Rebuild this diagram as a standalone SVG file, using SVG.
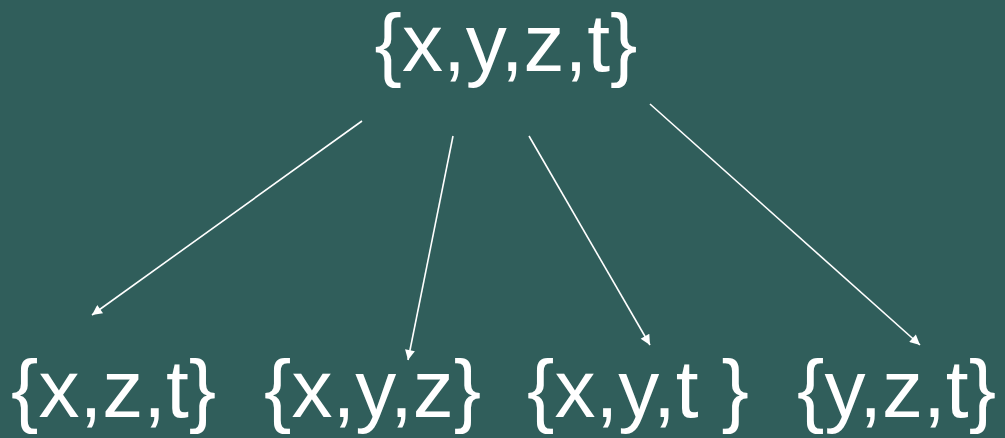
<svg xmlns="http://www.w3.org/2000/svg" width="1005" height="438" viewBox="0 0 1005 438">
<defs>
<style>
.t{font-family:"Liberation Sans",Arial,sans-serif;font-size:82px;fill:#ffffff}
.c line{stroke:#ffffff;stroke-width:1.6}
</style>
<marker id="ah" viewBox="0 0 10 10" refX="10" refY="5" markerWidth="14" markerHeight="10" markerUnits="userSpaceOnUse" orient="auto">
<path d="M0,0 L10,5 L0,10 z" fill="#ffffff"/>
</marker>
</defs>
<rect width="1005" height="438" fill="#305e5b"/>
<g id="top"><text class="t" x="506" y="71" text-anchor="middle">{x,y,z,t}</text></g>
<g id="n1"><text class="t" x="11" y="417">{x,z,t}</text></g>
<g id="n2"><text class="t" x="264" y="417">{x,y,z}</text></g>
<g id="n3"><text class="t" x="527" y="417">{x,y,t }</text></g>
<g id="n4"><text class="t" x="797" y="417">{y,z,t}</text></g>
<g class="c" id="connectors">
<line x1="362" y1="121" x2="92" y2="315" marker-end="url(#ah)"/>
<line x1="453" y1="136" x2="408" y2="360" marker-end="url(#ah)"/>
<line x1="529" y1="136" x2="650" y2="345" marker-end="url(#ah)"/>
<line x1="650" y1="104" x2="920" y2="345" marker-end="url(#ah)"/>
</g>
</svg>
